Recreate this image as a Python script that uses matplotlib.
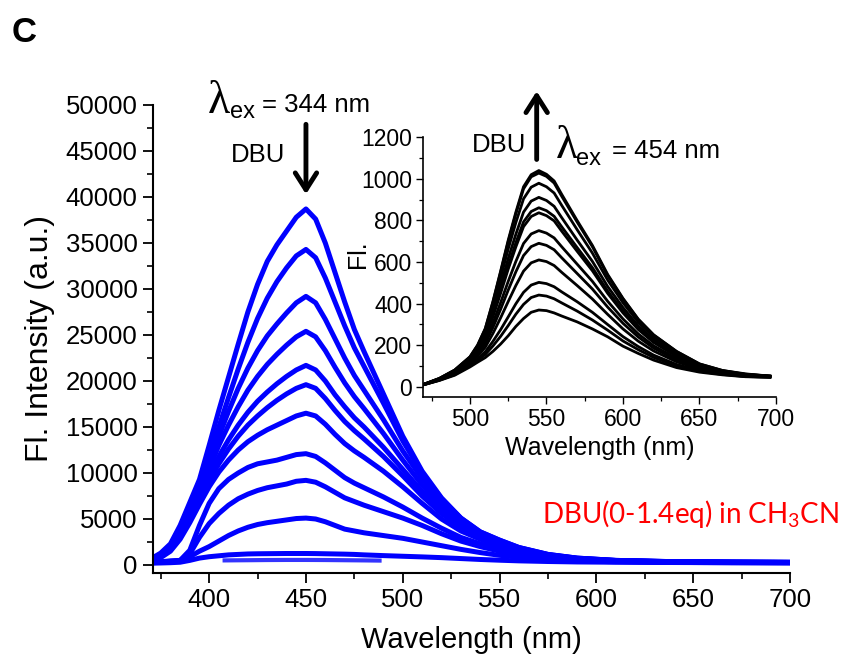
import numpy as np
import matplotlib
matplotlib.use("Agg")
import matplotlib.pyplot as plt
from matplotlib.ticker import MultipleLocator

plt.rcParams["font.family"] = ["Liberation Sans", "DejaVu Sans"]

# main spectra, excitation 344 nm (values in thousands of a.u.)
wl = [371, 375, 380, 385, 390, 395, 400, 405, 410, 415, 420, 425, 430, 435, 440,
      445, 450, 455, 460, 465, 470, 475, 480, 490, 500, 510, 520, 530, 540, 550,
      560, 575, 590, 610, 640, 670, 700]

fl_1 = [0.8, 1.3, 2.3, 4.3, 6.8, 9.3, 13.0, 16.8, 20.4, 24.0, 27.5, 30.5, 33.0, 34.8, 36.3,
        37.8, 38.7, 37.6, 35.0, 31.8, 28.6, 25.6, 23.2, 18.6, 14.0, 10.2, 7.3, 5.1, 3.6, 2.7,
        1.9, 1.15, 0.75, 0.5, 0.36, 0.3, 0.28]
fl_2 = [0.7, 1.2, 2.1, 3.9, 6.2, 8.8, 11.8, 15.0, 18.2, 21.3, 24.2, 26.8, 29.0, 30.8, 32.3,
        33.6, 34.3, 33.4, 31.2, 28.6, 26.0, 23.6, 21.6, 17.6, 13.5, 10.0, 7.2, 5.1, 3.6, 2.7,
        1.9, 1.15, 0.75, 0.5, 0.36, 0.3, 0.28]
fl_3 = [0.7, 1.1, 2.0, 3.7, 5.9, 8.4, 11.2, 14.0, 16.7, 19.2, 21.4, 23.3, 24.9, 26.2, 27.4,
        28.5, 29.2, 28.5, 26.7, 24.6, 22.5, 20.6, 19.0, 15.8, 12.4, 9.4, 6.9, 4.9, 3.5, 2.6,
        1.85, 1.1, 0.72, 0.49, 0.35, 0.3, 0.28]
fl_4 = [0.6, 1.0, 1.9, 3.5, 5.6, 8.0, 10.5, 13.0, 15.2, 17.2, 19.0, 20.5, 21.8, 22.9, 23.9,
        24.8, 25.4, 24.8, 23.3, 21.5, 19.8, 18.3, 17.0, 14.3, 11.4, 8.7, 6.4, 4.6, 3.3, 2.5,
        1.8, 1.1, 0.7, 0.47, 0.34, 0.3, 0.28]
fl_5 = [0.6, 0.95, 1.8, 3.3, 5.3, 7.5, 9.7, 11.8, 13.6, 15.2, 16.6, 17.8, 18.8, 19.7, 20.5,
        21.2, 21.7, 21.2, 20.0, 18.5, 17.2, 16.0, 15.0, 12.8, 10.4, 8.0, 5.9, 4.3, 3.1, 2.4,
        1.7, 1.05, 0.68, 0.46, 0.33, 0.3, 0.28]
fl_6 = [0.55, 0.9, 1.7, 3.1, 5.0, 7.1, 9.2, 11.0, 12.6, 14.0, 15.2, 16.2, 17.1, 17.9, 18.6,
        19.2, 19.6, 19.2, 18.1, 16.8, 15.6, 14.6, 13.7, 11.8, 9.7, 7.5, 5.6, 4.1, 3.0, 2.3,
        1.65, 1.0, 0.66, 0.45, 0.33, 0.3, 0.28]
fl_7 = [0.5, 0.8, 1.5, 2.8, 4.6, 6.6, 8.5, 10.1, 11.4, 12.5, 13.4, 14.1, 14.7, 15.2, 15.7,
        16.2, 16.5, 16.2, 15.3, 14.2, 13.2, 12.4, 11.7, 10.2, 8.5, 6.7, 5.0, 3.7, 2.8, 2.1,
        1.55, 0.95, 0.64, 0.44, 0.32, 0.3, 0.28]
fl_8 = [0.3, 0.35, 0.45, 0.5, 1.6, 4.3, 6.7, 8.3, 9.3, 10.0, 10.6, 11.0, 11.2, 11.4, 11.7,
        12.0, 12.1, 11.8, 11.1, 10.3, 9.5, 8.9, 8.4, 7.4, 6.3, 5.1, 4.0, 3.0, 2.3, 1.75,
        1.3, 0.85, 0.58, 0.41, 0.31, 0.28, 0.26]
fl_9 = [0.3, 0.35, 0.4, 0.5, 1.2, 3.0, 4.5, 5.6, 6.5, 7.2, 7.7, 8.1, 8.4, 8.6, 8.8,
        9.1, 9.2, 9.0, 8.5, 7.9, 7.3, 6.9, 6.5, 5.8, 5.1, 4.3, 3.4, 2.6, 2.0, 1.5,
        1.15, 0.78, 0.54, 0.39, 0.3, 0.27, 0.25]
fl_10 = [0.25, 0.3, 0.35, 0.45, 0.9, 1.5, 2.0, 2.6, 3.2, 3.7, 4.1, 4.4, 4.6, 4.75, 4.9,
         5.05, 5.1, 5.0, 4.7, 4.3, 3.9, 3.7, 3.5, 3.2, 2.9, 2.5, 2.1, 1.7, 1.35, 1.05,
         0.85, 0.6, 0.45, 0.35, 0.28, 0.25, 0.24]
fl_11 = [0.2, 0.22, 0.25, 0.3, 0.5, 0.75, 0.9, 1.0, 1.1, 1.15, 1.2, 1.22, 1.23, 1.24, 1.25,
         1.25, 1.25, 1.24, 1.22, 1.2, 1.18, 1.15, 1.1, 1.02, 0.95, 0.88, 0.8, 0.7, 0.6, 0.52,
         0.45, 0.38, 0.33, 0.3, 0.27, 0.25, 0.24]
main_curves = [fl_1, fl_2, fl_3, fl_4, fl_5, fl_6, fl_7, fl_8, fl_9, fl_10, fl_11]

# short low trace
wl_short = [408, 420, 430, 440, 450, 460, 470, 480, 488]
fl_short = [0.5, 0.52, 0.54, 0.55, 0.55, 0.54, 0.52, 0.5, 0.48]

# inset spectra, excitation 454 nm
wl_in = [470, 480, 490, 500, 505, 510, 515, 520, 525, 530, 535, 540, 545, 550, 555,
         560, 570, 580, 590, 600, 610, 620, 635, 650, 665, 680, 696]
in_1 = [12, 40, 80, 144, 200, 280, 410, 555, 705, 840, 962, 1020, 1040, 1022, 990,
        925, 800, 680, 540, 425, 325, 250, 170, 110, 78, 60, 52]
in_2 = [12, 40, 80, 143, 199, 278, 406, 550, 698, 832, 952, 1010, 1028, 1012, 980,
        916, 793, 674, 535, 422, 323, 248, 169, 109, 78, 62, 50]
in_3 = [12, 39, 78, 140, 192, 267, 388, 523, 663, 790, 904, 960, 979, 962, 932,
        872, 756, 643, 513, 404, 310, 239, 163, 106, 76, 59, 51]
in_4 = [12, 38, 75, 135, 184, 253, 364, 488, 617, 734, 840, 893, 911, 896, 868,
        813, 706, 603, 482, 381, 293, 227, 155, 102, 74, 58, 51]
in_5 = [11, 37, 73, 131, 178, 243, 346, 462, 582, 693, 793, 843, 861, 847, 820,
        769, 670, 573, 460, 364, 281, 217, 149, 99, 72, 57, 50]
in_6 = [11, 37, 72, 129, 175, 238, 337, 449, 566, 673, 770, 819, 837, 823, 798,
        748, 652, 558, 449, 355, 275, 213, 146, 98, 72, 56, 50]
in_7 = [11, 36, 69, 123, 165, 220, 307, 404, 507, 603, 689, 735, 751, 739, 716,
        673, 590, 507, 411, 326, 254, 197, 136, 93, 69, 55, 49]
in_8 = [11, 35, 67, 118, 157, 207, 285, 372, 465, 553, 631, 674, 690, 680, 659,
        620, 545, 470, 383, 305, 239, 186, 129, 89, 67, 54, 48]
in_9 = [11, 34, 64, 113, 147, 190, 256, 331, 410, 487, 556, 596, 610, 602, 583,
        550, 487, 422, 348, 278, 219, 172, 120, 84, 65, 52, 48]
in_10 = [10, 32, 60, 105, 134, 168, 218, 274, 336, 399, 454, 489, 502, 496, 481,
         456, 409, 358, 299, 241, 193, 152, 107, 78, 61, 50, 46]
in_11 = [10, 31, 58, 100, 127, 155, 196, 242, 294, 349, 396, 429, 441, 436, 423,
         403, 364, 321, 272, 220, 178, 141, 100, 74, 59, 49, 46]
in_12 = [10, 30, 55, 95, 118, 140, 170, 205, 245, 290, 328, 358, 369, 366, 355,
         340, 312, 278, 240, 195, 160, 128, 92, 70, 57, 48, 45]
inset_curves = [in_1, in_2, in_3, in_4, in_5, in_6, in_7, in_8, in_9, in_10, in_11, in_12]

W, H = 844, 664
fig = plt.figure(figsize=(W / 100, H / 100), dpi=100)


def fp(x, y):
    # pixel position (from top-left) -> figure fraction
    return x / W, 1 - y / H


ax = fig.add_axes([153 / W, 1 - 573 / H, (790 - 153) / W, (573 - 105) / H])
for c in main_curves:
    ax.plot(wl, np.array(c) * 1000, color="#0000ff", lw=3.6, solid_joinstyle="round")
ax.plot(wl_short, np.array(fl_short) * 1000, color="#0000ff", lw=3.0, alpha=0.8)

ax.set_xlim(371, 700)
ax.set_ylim(-870, 50000)
ax.xaxis.set_major_locator(MultipleLocator(50))
ax.xaxis.set_minor_locator(MultipleLocator(25))
ax.yaxis.set_major_locator(MultipleLocator(5000))
ax.yaxis.set_minor_locator(MultipleLocator(2500))
for s in ["top", "right"]:
    ax.spines[s].set_visible(False)
for s in ["left", "bottom"]:
    ax.spines[s].set_linewidth(1.5)
ax.tick_params(which="major", direction="out", length=7, width=1.3, labelsize=18.5, pad=4)
ax.tick_params(which="minor", direction="out", length=4, width=1.2)
ax.set_xlabel("Wavelength (nm)", fontsize=21, labelpad=10)
ax.set_ylabel("Fl. Intensity (a.u.)", fontsize=23, labelpad=8)

ax.annotate("", xy=(450, 40000), xytext=(450, 48200), annotation_clip=False,
            arrowprops=dict(arrowstyle="->,head_length=0.55,head_width=0.35",
                            lw=3.5, color="black", mutation_scale=22))

ins = fig.add_axes([423.3 / W, 1 - 397.3 / H, (776 - 423.3) / W, (397.3 - 137.3) / H])
for c in inset_curves:
    ins.plot(wl_in, c, color="black", lw=2.0, solid_joinstyle="round")
ins.set_xlim(469.5, 700)
ins.set_ylim(-51, 1200)
ins.xaxis.set_major_locator(MultipleLocator(50))
ins.xaxis.set_minor_locator(MultipleLocator(25))
ins.yaxis.set_major_locator(MultipleLocator(200))
ins.yaxis.set_minor_locator(MultipleLocator(100))
for s in ["top", "right"]:
    ins.spines[s].set_visible(False)
for s in ["left", "bottom"]:
    ins.spines[s].set_linewidth(1.2)
ins.tick_params(which="major", direction="out", length=5, width=1.0, labelsize=16.5, pad=3)
ins.tick_params(which="minor", direction="out", length=3, width=0.9)
ins.set_xlabel("Wavelength (nm)", fontsize=18, labelpad=3)
ins.set_ylabel("Fl.", fontsize=18)
ins.yaxis.set_label_coords(-0.152, 0.55)

ins.annotate("", xy=(543.6, 1435), xytext=(543.6, 1080), annotation_clip=False,
             arrowprops=dict(arrowstyle="->,head_length=0.55,head_width=0.35",
                             lw=3.5, color="black", mutation_scale=22))

# texts
serif = ["Liberation Serif", "DejaVu Serif"]
fig.text(*fp(12, 42), "C", fontsize=25, fontweight="bold")
fig.text(*fp(208, 113), "\u03bb", fontsize=33, family=serif)
fig.text(*fp(230, 118), "ex", fontsize=17)
fig.text(*fp(262, 112), "= 344 nm", fontsize=18.5)
fig.text(*fp(231, 162), "DBU", fontsize=18.5)
fig.text(*fp(556, 158), "\u03bb", fontsize=33, family=serif)
fig.text(*fp(576, 165), "ex", fontsize=17)
fig.text(*fp(612, 158), "= 454 nm", fontsize=18.5)
fig.text(*fp(472, 152), "DBU", fontsize=18.5)
fig.text(*fp(542, 523), r"DBU(0-1.4eq) in CH$\mathregular{_3}$CN", fontsize=20,
         color="#ff0000", family=["Lato", "DejaVu Sans"])

fig.savefig("out.png", dpi=100)
